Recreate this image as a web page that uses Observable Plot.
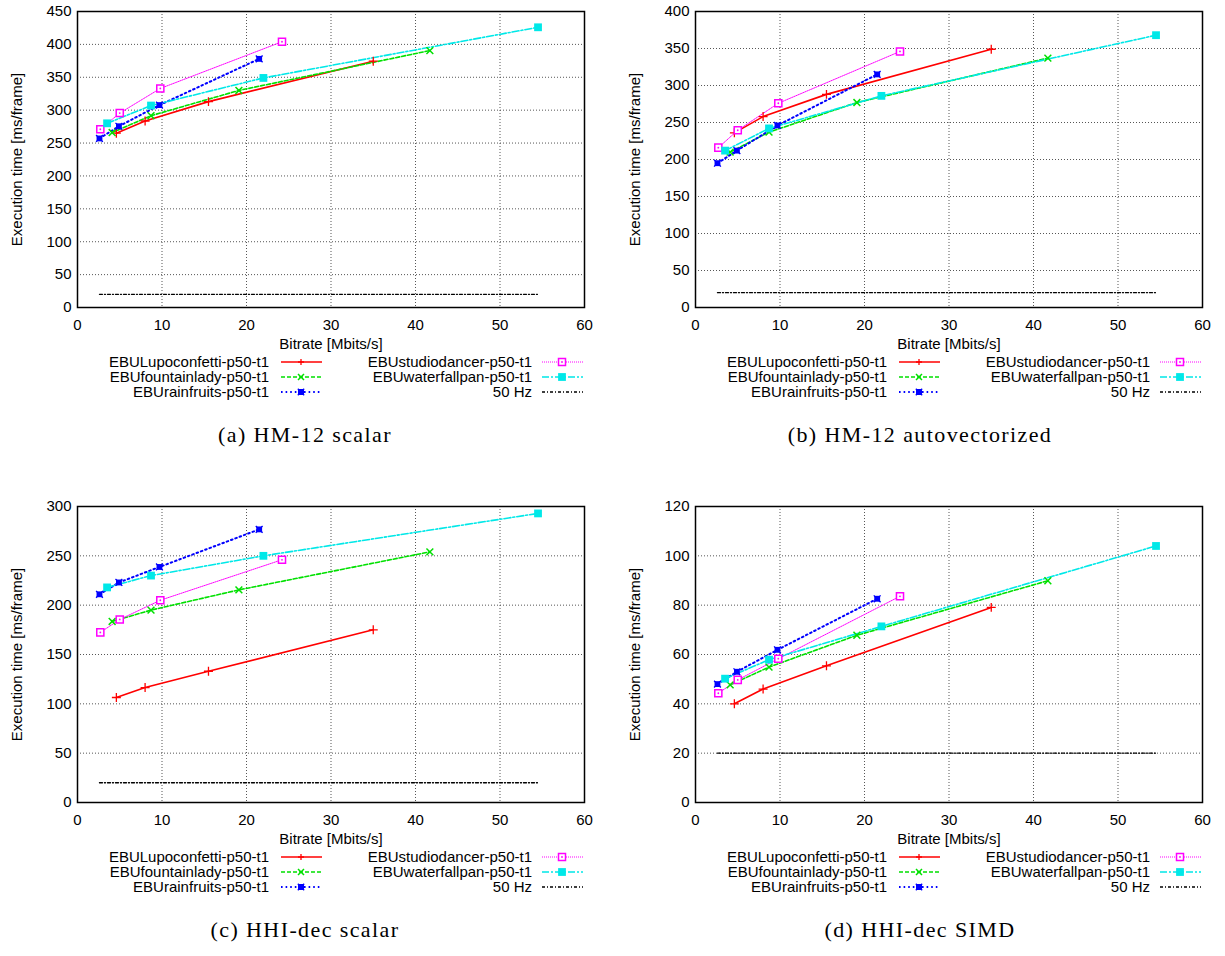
<!DOCTYPE html>
<html>
<head>
<meta charset="utf-8">
<script src="https://cdn.jsdelivr.net/npm/d3@7"></script>
<script src="https://cdn.jsdelivr.net/npm/@observablehq/plot@0.6"></script>
<style>
  html, body { margin: 0; padding: 0; background: #fff; }
  #page { position: relative; width: 1225px; height: 956px; background: #fff; overflow: hidden; }
  .panel { position: absolute; }
  .legend { position: absolute; font-family: "Liberation Sans", Arial, sans-serif; font-size: 15px; color: #000; }
  .caption { position: absolute; font-family: "Liberation Serif", "DejaVu Serif", serif; font-size: 22px; letter-spacing: 1.4px; white-space: nowrap; transform: translate(-50%, -50%); }
</style>
</head>
<body>
<div id="page"></div>
<script>
// ---------- data ----------
const seriesNames = ["EBULupoconfetti-p50-t1", "EBUfountainlady-p50-t1", "EBUrainfruits-p50-t1", "EBUstudiodancer-p50-t1", "EBUwaterfallpan-p50-t1"];
const refName = "50 Hz";

// bitrate (Mbits/s) of the four encodings per sequence
const bitrateLupoconfetti = [4.6, 8.0, 15.5, 35.0];
const bitrateFountainlady = [4.1, 8.7, 19.1, 41.7];
const bitrateRainfruits   = [2.6, 4.9, 9.7, 21.5];
const bitrateStudiodancer = [2.7, 5.0, 9.8, 24.2];
const bitrateWaterfallpan = [3.5, 8.7, 22.0, 54.5];

// 50 Hz reference line
const hz50Value = 20;
const hz50Bitrates = [2.6, 54.5];

// (a) HM-12 scalar
const hmScalarLupoconfetti = [265, 283.5, 313, 374.5];
const hmScalarFountainlady = [266, 291.6, 330, 390.6];
const hmScalarRainfruits   = [257, 275.5, 307.7, 378];
const hmScalarStudiodancer = [271, 295.6, 333, 404];
const hmScalarWaterfallpan = [280, 307, 349, 426];

// (b) HM-12 autovectorized
const hmAutoLupoconfetti = [236, 258, 288, 349];
const hmAutoFountainlady = [210, 237, 277, 337];
const hmAutoRainfruits   = [195, 212, 246, 315];
const hmAutoStudiodancer = [216, 239.5, 276, 346];
const hmAutoWaterfallpan = [212, 242, 286, 368];

// (c) HHI-dec scalar
const hhiScalarLupoconfetti = [106.4, 116.5, 133, 175];
const hhiScalarFountainlady = [183.5, 195, 215.5, 254];
const hhiScalarRainfruits   = [211, 223, 238.7, 276.8];
const hhiScalarStudiodancer = [172.4, 185.5, 205, 246];
const hhiScalarWaterfallpan = [218, 230, 250, 293];

// (d) HHI-dec SIMD
const hhiSimdLupoconfetti = [40, 46, 55.4, 79.1];
const hhiSimdFountainlady = [47.7, 54.9, 67.8, 89.9];
const hhiSimdRainfruits   = [48, 53, 61.9, 82.6];
const hhiSimdStudiodancer = [44.3, 49.7, 58.3, 83.6];
const hhiSimdWaterfallpan = [50.2, 57.9, 71.4, 104];

const xTicks = [0, 10, 20, 30, 40, 50, 60];
const yTicksA = [0, 50, 100, 150, 200, 250, 300, 350, 400, 450];
const yTicksB = [0, 50, 100, 150, 200, 250, 300, 350, 400];
const yTicksC = [0, 50, 100, 150, 200, 250, 300];
const yTicksD = [0, 20, 40, 60, 80, 100, 120];

const captions = ["(a) HM-12 scalar", "(b) HM-12 autovectorized", "(c) HHI-dec scalar", "(d) HHI-dec SIMD"];
const xLabel = "Bitrate [Mbits/s]";
const yLabel = "Execution time [ms/frame]";

// ---------- styles ----------
const bitrates = [bitrateLupoconfetti, bitrateFountainlady, bitrateRainfruits, bitrateStudiodancer, bitrateWaterfallpan];
const styles = [
  {color: "#ff0000", dash: null,        width: 1.6, marker: "plus"},
  {color: "#00e000", dash: "4,2",       width: 1.6, marker: "times"},
  {color: "#0000ff", dash: "1.6,3",     width: 2.0, marker: "star"},
  {color: "#ff00ff", dash: "1,1",       width: 1.0, marker: "opensq"},
  {color: "#00e8e8", dash: "7,2,2,2",   width: 1.6, marker: "filledsq"}
];
const refStyle = {color: "#000", dash: "3,2,1,2", width: 1.3};

const panels = [
  {ys: [hmScalarLupoconfetti, hmScalarFountainlady, hmScalarRainfruits, hmScalarStudiodancer, hmScalarWaterfallpan], ticks: yTicksA, left: 0, top: 0, capX: 305},
  {ys: [hmAutoLupoconfetti, hmAutoFountainlady, hmAutoRainfruits, hmAutoStudiodancer, hmAutoWaterfallpan], ticks: yTicksB, left: 618, top: 0, capX: 920},
  {ys: [hhiScalarLupoconfetti, hhiScalarFountainlady, hhiScalarRainfruits, hhiScalarStudiodancer, hhiScalarWaterfallpan], ticks: yTicksC, left: 0, top: 495, capX: 305},
  {ys: [hhiSimdLupoconfetti, hhiSimdFountainlady, hhiSimdRainfruits, hhiSimdStudiodancer, hhiSimdWaterfallpan], ticks: yTicksD, left: 618, top: 495, capX: 920}
];

function markerMarks(data, st) {
  const c = st.color;
  const o = {x: "x", y: "y"};
  switch (st.marker) {
    case "plus": return [Plot.dot(data, {...o, symbol: "plus", r: 3.0, stroke: c, strokeWidth: 1.3})];
    case "times": return [Plot.dot(data, {...o, symbol: "times", r: 3.2, stroke: c, strokeWidth: 1.5})];
    case "star": return [
      Plot.dot(data, {...o, symbol: "square", r: 3.3, fill: c}),
      Plot.dot(data, {...o, symbol: "times", r: 3.2, stroke: c, strokeWidth: 1.3})
    ];
    case "opensq": return [
      Plot.dot(data, {...o, symbol: "square", r: 4.0, stroke: c, fill: "white", strokeWidth: 1.5}),
      Plot.dot(data, {...o, r: 0.9, fill: c})
    ];
    case "filledsq": return [Plot.dot(data, {...o, symbol: "square", r: 4.4, fill: c})];
  }
  return [];
}

const page = document.getElementById("page");

panels.forEach((p, pi) => {
  const ymax = p.ticks[p.ticks.length - 1];
  const marks = [
    Plot.gridX(xTicks, {stroke: "#444", strokeOpacity: 0.9, strokeDasharray: "1,2", strokeWidth: 1}),
    Plot.gridY(p.ticks, {stroke: "#444", strokeOpacity: 0.9, strokeDasharray: "1,2", strokeWidth: 1}),
    Plot.axisX(xTicks, {tickSize: 0, tickPadding: 12, label: null, fontSize: 15}),
    Plot.axisY(p.ticks, {tickSize: 0, tickPadding: 6, label: null, fontSize: 15}),
    Plot.text([xLabel], {frameAnchor: "bottom", dy: 37, text: d => d, fontSize: 15, lineAnchor: "middle", textAnchor: "middle"}),
    Plot.text([yLabel], {frameAnchor: "left", dx: -60, rotate: -90, text: d => d, fontSize: 15, lineAnchor: "middle", textAnchor: "middle"})
  ];
  // 50 Hz reference
  const refData = hz50Bitrates.map(x => ({x, y: hz50Value}));
  marks.push(Plot.line(refData, {x: "x", y: "y", stroke: refStyle.color, strokeWidth: refStyle.width, strokeDasharray: refStyle.dash}));
  // series
  p.ys.forEach((ys, si) => {
    const st = styles[si];
    const data = bitrates[si].map((x, i) => ({x, y: ys[i]}));
    marks.push(Plot.line(data, {x: "x", y: "y", stroke: st.color, strokeWidth: st.width, strokeDasharray: st.dash || undefined}));
  });
  p.ys.forEach((ys, si) => {
    const st = styles[si];
    const data = bitrates[si].map((x, i) => ({x, y: ys[i]}));
    marks.push(...markerMarks(data, st));
  });
  marks.push(Plot.frame({stroke: "#000", strokeWidth: 1.5}));

  const svg = Plot.plot({
    width: 600, height: 360,
    marginLeft: 77, marginRight: 16, marginTop: 11, marginBottom: 53,
    x: {domain: [0, 60]},
    y: {domain: [0, ymax]},
    style: {fontFamily: "'Liberation Sans', Arial, sans-serif", fontSize: "15px", color: "#000", background: "transparent", overflow: "visible"},
    marks
  });
  const wrap = document.createElement("div");
  wrap.className = "panel";
  wrap.style.left = p.left + "px";
  wrap.style.top = p.top + "px";
  wrap.appendChild(svg);
  page.appendChild(wrap);

  // legend
  const entries = seriesNames.map((n, i) => ({name: n, st: styles[i]})).concat([{name: refName, st: {...refStyle, marker: null}}]);
  const slots = [
    {col: 0, row: 0}, {col: 0, row: 1}, {col: 0, row: 2},
    {col: 1, row: 0}, {col: 1, row: 1}, {col: 1, row: 2}
  ];
  const colTextRight = [269, 532];
  const colSampleLeft = [280, 541];
  entries.forEach((e, i) => {
    const s = slots[i];
    const cy = p.top + 362 + s.row * 15;
    const t = document.createElement("div");
    t.className = "legend";
    t.style.left = (p.left + colTextRight[s.col] - 300) + "px";
    t.style.width = "300px";
    t.style.top = (cy - 8) + "px";
    t.style.textAlign = "right";
    t.style.lineHeight = "16px";
    t.textContent = e.name;
    page.appendChild(t);
    const ns = "http://www.w3.org/2000/svg";
    const sv = document.createElementNS(ns, "svg");
    sv.setAttribute("width", 44); sv.setAttribute("height", 12);
    sv.style.position = "absolute";
    sv.style.left = (p.left + colSampleLeft[s.col]) + "px";
    sv.style.top = (cy - 6) + "px";
    const ln = document.createElementNS(ns, "line");
    ln.setAttribute("x1", 1); ln.setAttribute("x2", 42); ln.setAttribute("y1", 6); ln.setAttribute("y2", 6);
    ln.setAttribute("stroke", e.st.color); ln.setAttribute("stroke-width", e.st.width);
    if (e.st.dash) ln.setAttribute("stroke-dasharray", e.st.dash);
    sv.appendChild(ln);
    const cx = 21, my = 6;
    const add = (tag, attrs) => { const el = document.createElementNS(ns, tag); for (const k in attrs) el.setAttribute(k, attrs[k]); sv.appendChild(el); };
    const c = e.st.color;
    if (e.st.marker === "plus") add("path", {d: `M${cx-3},${my}H${cx+3}M${cx},${my-3}V${my+3}`, stroke: c, "stroke-width": 1.3});
    if (e.st.marker === "times") add("path", {d: `M${cx-3},${my-3}L${cx+3},${my+3}M${cx-3},${my+3}L${cx+3},${my-3}`, stroke: c, "stroke-width": 1.5});
    if (e.st.marker === "star") { add("rect", {x: cx-3, y: my-3, width: 6, height: 6, fill: c}); add("path", {d: `M${cx-3.2},${my-3.2}L${cx+3.2},${my+3.2}M${cx-3.2},${my+3.2}L${cx+3.2},${my-3.2}`, stroke: c, "stroke-width": 1.3}); }
    if (e.st.marker === "opensq") { add("rect", {x: cx-3.5, y: my-3.5, width: 7, height: 7, fill: "white", stroke: c, "stroke-width": 1.5}); add("circle", {cx, cy: my, r: 0.9, fill: c}); }
    if (e.st.marker === "filledsq") add("rect", {x: cx-3.9, y: my-3.9, width: 7.8, height: 7.8, fill: c});
    page.appendChild(sv);
  });

  // caption
  const cap = document.createElement("div");
  cap.className = "caption";
  cap.style.left = p.capX + "px";
  cap.style.top = (p.top + 435) + "px";
  cap.textContent = captions[pi];
  page.appendChild(cap);
});
</script>
</body>
</html>
